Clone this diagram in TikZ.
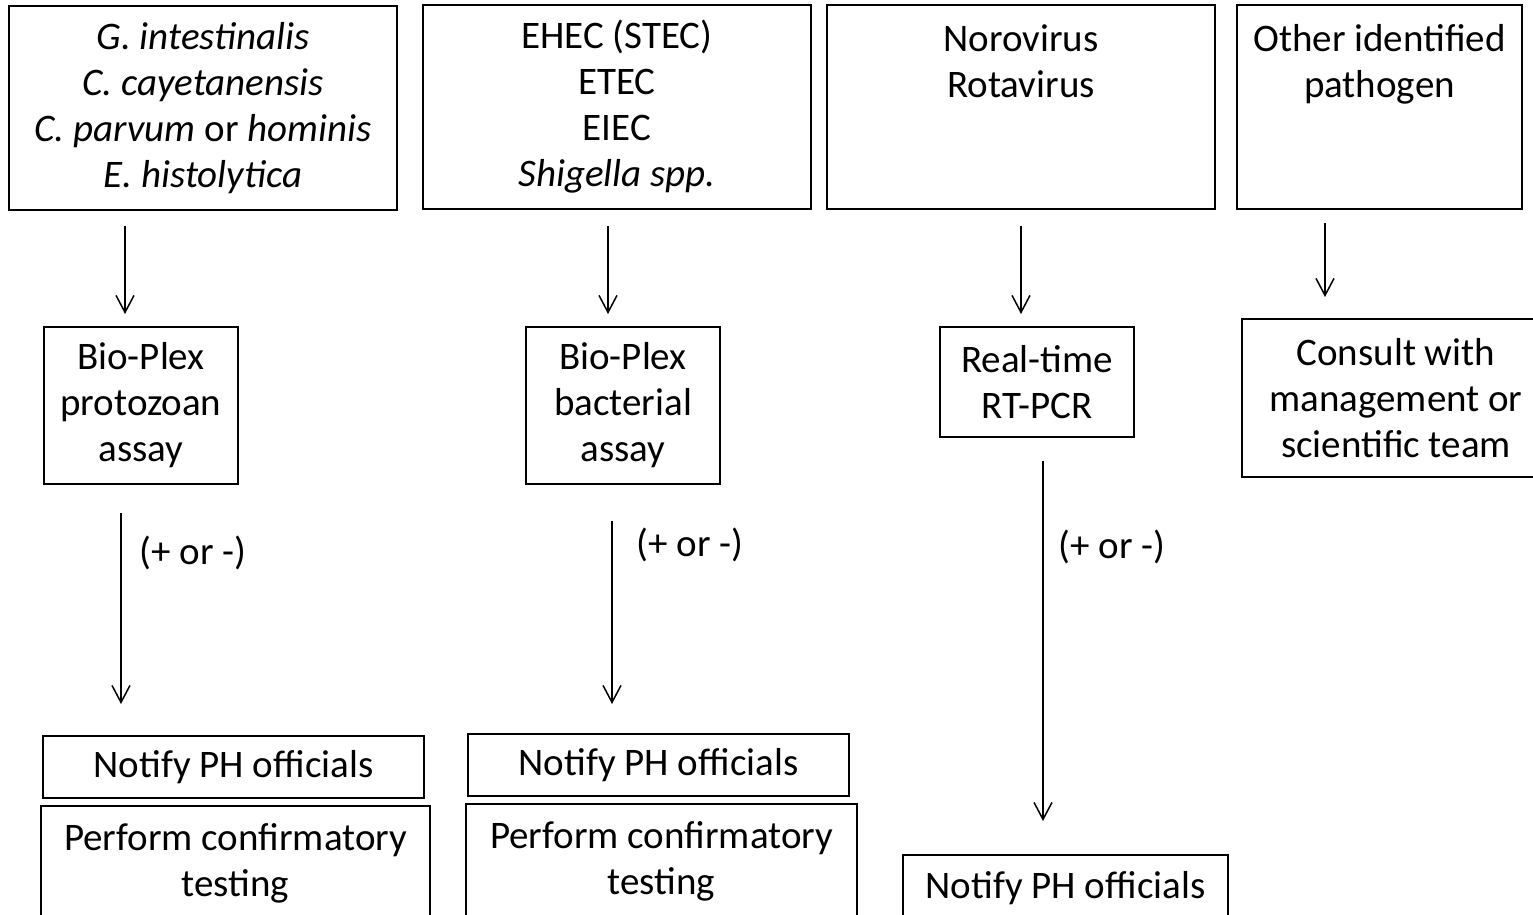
\documentclass[tikz,border=0pt]{standalone}
\usepackage{fontspec}
\setmainfont{Carlito}
\usepackage{tikz}
\usetikzlibrary{arrows.meta}

\tikzset{
  box/.style={draw, line width=1pt, align=center, inner sep=0pt},
  arr/.style={line width=0.75pt, -{Straight Barb[length=8.5pt,width=9pt]}},
  sign/.style={inner sep=0pt}
}

\begin{document}
\begin{tikzpicture}[x=0.5pt, y=-0.5pt]
        \useasboundingbox (0,0) rectangle (1533,915);
        \clip (0,0) rectangle (1533,915);
        \fontsize{19.5}{23}\selectfont

        \node [box, minimum width=194pt, minimum height=102pt] (a1) at (203,108)
              {\textit{G. intestinalis}\\\textit{C. cayetanensis}\\\textit{C. parvum} or \textit{hominis}\\\textit{E. histolytica}};
        \node [box, minimum width=194pt, minimum height=102pt] (a2) at (617,107)
              {EHEC (STEC)\\ETEC\\EIEC\\\textit{Shigella spp.}};
        \node [box, minimum width=194pt, minimum height=102pt] (a3) at (1021,107)
              {Norovirus\\Rotavirus\\~\\~};
        \node [box, minimum width=142.5pt, minimum height=102pt] (a4) at (1379.5,107)
              {Other identified\\pathogen\\~\\~};

        \node [box, minimum width=97pt, minimum height=78.5pt] (b1) at (141,405.5) {Bio-Plex\\protozoan\\assay};
        \node [box, minimum width=97pt, minimum height=78.5pt] (b2) at (623,405.5) {Bio-Plex\\bacterial\\assay};
        \node [box, minimum width=97pt, minimum height=55pt]   (b3) at (1037,382)  {Real-time\\RT-PCR};
        \node [box, draw=none, minimum width=153pt, minimum height=78pt] (b4) at (1396,398) {Consult with\\management or\\scientific team};
        \draw [line width=1pt] (b4.north east) -- (b4.north west) -- (b4.south west) -- (b4.south east);

        \node [box, minimum width=190.5pt, minimum height=31pt] (c1) at (233.5,767) {Notify PH officials};
        \node [box, minimum width=194.5pt, minimum height=57pt] (d1) at (235.5,863) {Perform confirmatory\\testing};
        \node [box, minimum width=190.5pt, minimum height=31pt] (c2) at (658.5,765) {Notify PH officials};
        \node [box, minimum width=195.5pt, minimum height=57pt] (d2) at (661.5,861) {Perform confirmatory\\testing};
        \node [box, minimum width=162.5pt, minimum height=33pt] (c3) at (1065.5,888) {Notify PH officials};

        \draw [arr] ([shift={(-78,15)}]a1.south)  -- ([shift={(-16,-12)}]b1.north);
        \draw [arr] ([shift={(-9,16)}]a2.south)   -- ([shift={(-15,-12)}]b2.north);
        \draw [arr] ([shift={(0,16)}]a3.south)    -- ([shift={(-16,-12)}]b3.north);
        \draw [arr] ([shift={(-54.5,13)}]a4.south) -- ([shift={(-71,-22)}]b4.north);

        \draw [arr] ([shift={(-20,28)}]b1.south)  -- node [sign, right=9pt, pos=0.21] (s1) {(+ or -)} ([shift={(-112.5,-31)}]c1.north);
        \draw [arr] ([shift={(-11,36)}]b2.south)  -- node [sign, right=12pt, pos=0.13] (s2) {(+ or -)} ([shift={(-46.5,-29)}]c2.north);
        \draw [arr] ([shift={(6,23)}]b3.south)    -- node [sign, right=7.5pt, pos=0.24] (s3) {(+ or -)} ([shift={(-22.5,-33)}]c3.north);
\end{tikzpicture}
\end{document}
